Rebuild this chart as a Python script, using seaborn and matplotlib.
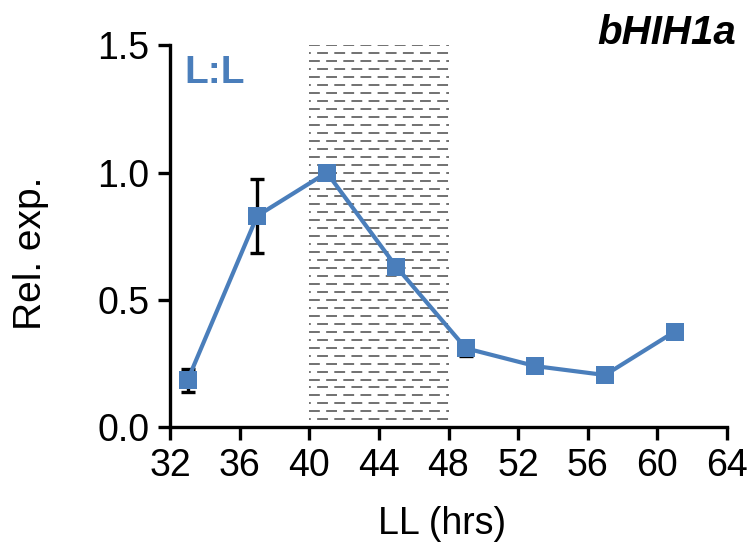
import numpy as np
import pandas as pd
import matplotlib
matplotlib.use("Agg")
import matplotlib.pyplot as plt
import seaborn as sns

# data
hours = [33, 37, 41, 45, 49, 53, 57, 61]
rel_exp = [0.185, 0.83, 1.0, 0.63, 0.31, 0.24, 0.205, 0.375]
err = [0.045, 0.145, 0.0, 0.02, 0.03, 0.015, 0.01, 0.015]
dark_start, dark_end = 40, 48
gene = "bHIH1a"
condition = "L:L"

df = pd.DataFrame({"hours": hours, "rel_exp": rel_exp, "err": err})

sns.set_theme(style="white")
plt.rcParams["font.family"] = ["Liberation Sans", "DejaVu Sans"]
plt.rcParams.update({"text.color": "black", "axes.labelcolor": "black",
                     "xtick.color": "black", "ytick.color": "black"})

blue = "#4a7ebb"

fig = plt.figure(figsize=(7.5, 5.52), dpi=100)
ax = fig.add_axes([0.227, 0.226, 0.742, 0.692])

# dashed hatch for the subjective night
rows = np.linspace(0.0, 1.5, 49)
ax.hlines(rows[0::2], dark_start, dark_end, colors="#666666", linewidth=1.3,
          linestyles=[(0, (6, 3.5))])
ax.hlines(rows[1::2], dark_start, dark_end, colors="#666666", linewidth=1.3,
          linestyles=[(5, (6, 3.5))])

# error bars
ax.errorbar(df["hours"], df["rel_exp"], yerr=df["err"], fmt="none",
            ecolor="black", elinewidth=2.4, capsize=5, capthick=2.4, zorder=3)

# the series
sns.lineplot(data=df, x="hours", y="rel_exp", ax=ax, color=blue, linewidth=3,
             marker="s", markersize=13, markeredgewidth=0, zorder=4)

ax.set_xlim(32, 64)
ax.set_ylim(0, 1.5)
ax.set_xticks(range(32, 65, 4))
ax.set_yticks([0.0, 0.5, 1.0, 1.5])
ax.set_yticklabels(["0.0", "0.5", "1.0", "1.5"])
ax.tick_params(axis="both", labelsize=27, width=2.4, length=9, direction="out",
               color="black", pad=6)
ax.tick_params(axis="x", bottom=True)
ax.tick_params(axis="y", left=True)

for side in ["top", "right"]:
    ax.spines[side].set_visible(False)
for side in ["left", "bottom"]:
    ax.spines[side].set_color("black")
    ax.spines[side].set_linewidth(2.4)

ax.set_xlabel("LL (hrs)", fontsize=27)
ax.set_ylabel("Rel. exp.", fontsize=28)
ax.xaxis.set_label_coords(0.488, -0.205)
ax.yaxis.set_label_coords(-0.218, 0.455)

ax.text(0.025, 0.975, condition, transform=ax.transAxes, color=blue,
        fontsize=28, fontweight="bold", ha="left", va="top")
fig.text(0.982, 0.975, gene, fontsize=29, fontweight="bold", style="italic",
         ha="right", va="top")

fig.savefig("out.png", dpi=100)
